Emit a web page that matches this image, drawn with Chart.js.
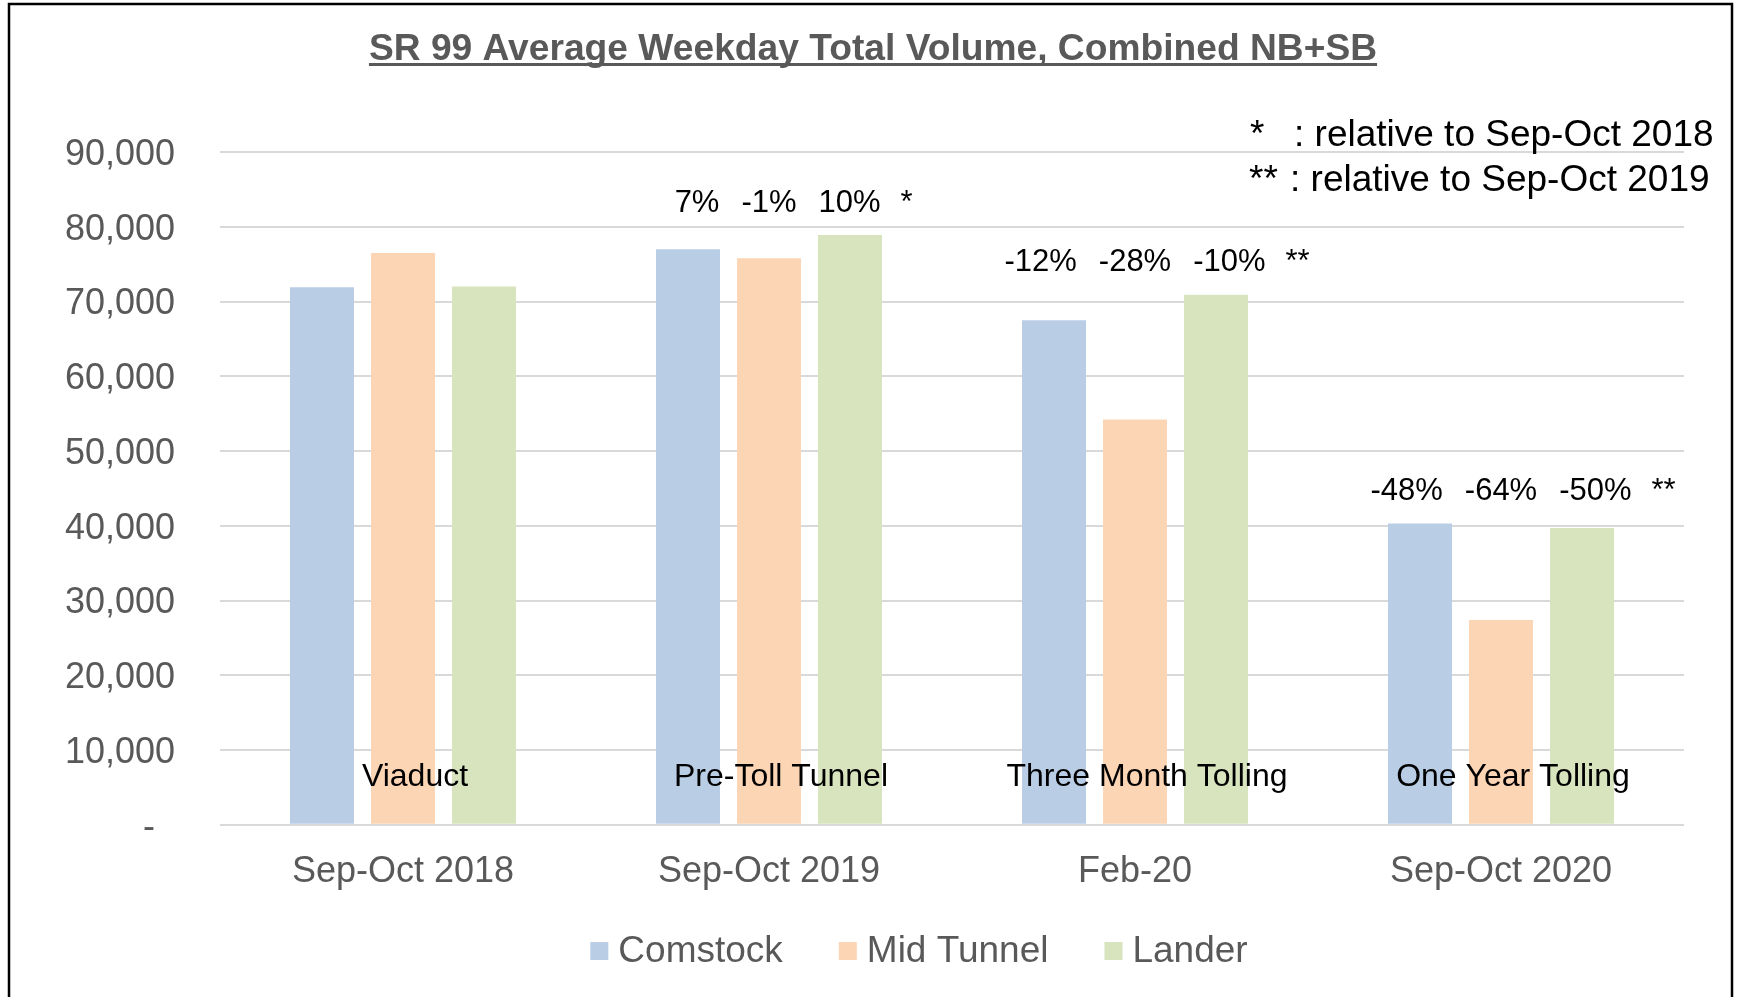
<!DOCTYPE html>
<html>
<head>
<meta charset="utf-8">
<script src="https://cdn.jsdelivr.net/npm/chart.js@4"></script>
<style>
  html, body { margin: 0; padding: 0; background: #ffffff; }
  #wrap { width: 1741px; height: 997px; }
</style>
</head>
<body>
<div id="wrap"><canvas id="c" width="1741" height="997"></canvas></div>
<script>
const categories = ['Sep-Oct 2018', 'Sep-Oct 2019', 'Feb-20', 'Sep-Oct 2020'];
const periodNames = ['Viaduct', 'Pre-Toll Tunnel', 'Three Month Tolling', 'One Year Tolling'];
const seriesNames = ['Comstock', 'Mid Tunnel', 'Lander'];
const comstock = [71900, 77000, 67500, 40300];
const midTunnel = [76500, 75800, 54200, 27400];
const lander = [72000, 78900, 70900, 39700];
const pctComstock = ['', '7%', '-12%', '-48%'];
const pctMidTunnel = ['', '-1%', '-28%', '-64%'];
const pctLander = ['', '10%', '-10%', '-50%'];
const pctMarkers = ['', '*', '**', '**'];
const footnoteMarks = ['*', '**'];
const footnoteTexts = [': relative to Sep-Oct 2018', ': relative to Sep-Oct 2019'];
const yTicks = [0, 10000, 20000, 30000, 40000, 50000, 60000, 70000, 80000, 90000];
const titleText = 'SR 99 Average Weekday Total Volume, Combined NB+SB';

const FONT = '"Liberation Sans", Arial, Helvetica, sans-serif';
const colors = ['#B9CDE5', '#FCD5B5', '#D7E4BD'];
const pctSets = [pctComstock, pctMidTunnel, pctLander];

const decorPlugin = {
  id: 'decor',
  beforeDraw(chart) {
    const ctx = chart.ctx;
    ctx.save();
    ctx.fillStyle = '#ffffff';
    ctx.fillRect(0, 0, chart.width, chart.height);
    ctx.restore();
  },
  afterDatasetsDraw(chart) {
    const ctx = chart.ctx;
    const x = chart.scales.x;
    const area = chart.chartArea;
    ctx.save();
    // period names inside the plot
    ctx.font = '32px ' + FONT;
    ctx.fillStyle = '#000000';
    ctx.textAlign = 'center';
    ctx.textBaseline = 'middle';
    periodNames.forEach((name, i) => {
      ctx.fillText(name, x.getPixelForValue(i) + 12, area.bottom - 48);
    });
    // percentage labels above each group
    ctx.font = '31px ' + FONT;
    const gap = 22;
    for (let i = 0; i < categories.length; i++) {
      if (!pctSets[0][i]) continue;
      let top = Infinity;
      for (let d = 0; d < 3; d++) {
        top = Math.min(top, chart.getDatasetMeta(d).data[i].y);
      }
      const midX = chart.getDatasetMeta(1).data[i].x;
      const ly = top - 32;
      const wL = ctx.measureText(pctSets[0][i]).width;
      const wM = ctx.measureText(pctSets[1][i]).width;
      const wR = ctx.measureText(pctSets[2][i]).width;
      ctx.textAlign = 'left';
      const mLeft = midX - wM / 2;
      ctx.fillText(pctSets[1][i], mLeft, ly);
      ctx.fillText(pctSets[0][i], mLeft - gap - wL, ly);
      const rLeft = mLeft + wM + gap;
      ctx.fillText(pctSets[2][i], rLeft, ly);
      ctx.fillText(pctMarkers[i], rLeft + wR + 20, ly);
    }
    ctx.restore();
  },
  afterDraw(chart) {
    const ctx = chart.ctx;
    ctx.save();
    // title
    ctx.font = 'bold 37.2px ' + FONT;
    ctx.fillStyle = '#595959';
    ctx.textAlign = 'center';
    ctx.textBaseline = 'alphabetic';
    const tx = 873, ty = 60;
    ctx.fillText(titleText, tx, ty);
    const tw = ctx.measureText(titleText).width;
    ctx.fillRect(tx - tw / 2, ty + 3, tw, 3);
    // footnotes
    ctx.font = '37px ' + FONT;
    ctx.fillStyle = '#000000';
    ctx.textAlign = 'left';
    ctx.textBaseline = 'middle';
    ctx.fillText(footnoteMarks[0], 1250, 136);
    ctx.fillText(footnoteTexts[0], 1294, 136);
    ctx.fillText(footnoteMarks[1], 1249, 181);
    ctx.fillText(footnoteTexts[1], 1290, 181);
    // legend
    ctx.font = '37px ' + FONT;
    const box = 18, boxGap = 10, itemGap = 56;
    const widths = seriesNames.map(n => ctx.measureText(n).width);
    const total = widths.reduce((a, w) => a + box + boxGap + w, 0) + itemGap * (seriesNames.length - 1);
    let lx = 919 - total / 2;
    const lyC = 951;
    seriesNames.forEach((n, k) => {
      ctx.fillStyle = colors[k];
      ctx.fillRect(lx, lyC - box / 2, box, box);
      ctx.fillStyle = '#595959';
      ctx.fillText(n, lx + box + boxGap, lyC + 1);
      lx += box + boxGap + widths[k] + itemGap;
    });
    // outer frame
    ctx.strokeStyle = '#000000';
    ctx.lineWidth = 2.5;
    ctx.strokeRect(9, 4, 1723, 1100);
    ctx.restore();
  }
};

new Chart(document.getElementById('c'), {
  type: 'bar',
  data: {
    labels: categories,
    datasets: [
      { label: seriesNames[0], data: comstock, backgroundColor: colors[0] },
      { label: seriesNames[1], data: midTunnel, backgroundColor: colors[1] },
      { label: seriesNames[2], data: lander, backgroundColor: colors[2] }
    ]
  },
  options: {
    responsive: false,
    animation: false,
    devicePixelRatio: 1,
    categoryPercentage: 0.664,
    barPercentage: 0.79,
    layout: { padding: { left: 0, right: 57, top: 152, bottom: 77 } },
    plugins: {
      title: { display: false },
      tooltip: { enabled: false },
      legend: { display: false }
    },
    scales: {
      x: {
        grid: { display: false, drawTicks: false },
        border: { display: false },
        ticks: { color: '#595959', font: { size: 36, family: FONT }, padding: 26 }
      },
      y: {
        min: 0,
        max: 90000,
        afterFit(scale) { scale.width = 220; },
        afterBuildTicks(scale) { scale.ticks = yTicks.map(v => ({ value: v })); },
        grid: { color: '#D9D9D9', lineWidth: 2, drawTicks: false },
        border: { display: false },
        ticks: {
          color: '#595959',
          font: { size: 36, family: FONT },
          padding: 45,
          labelOffset: 3,
          callback: (v) => v === 0 ? '-\u2007' : v.toLocaleString('en-US')
        }
      }
    }
  },
  plugins: [decorPlugin]
});
</script>
</body>
</html>
